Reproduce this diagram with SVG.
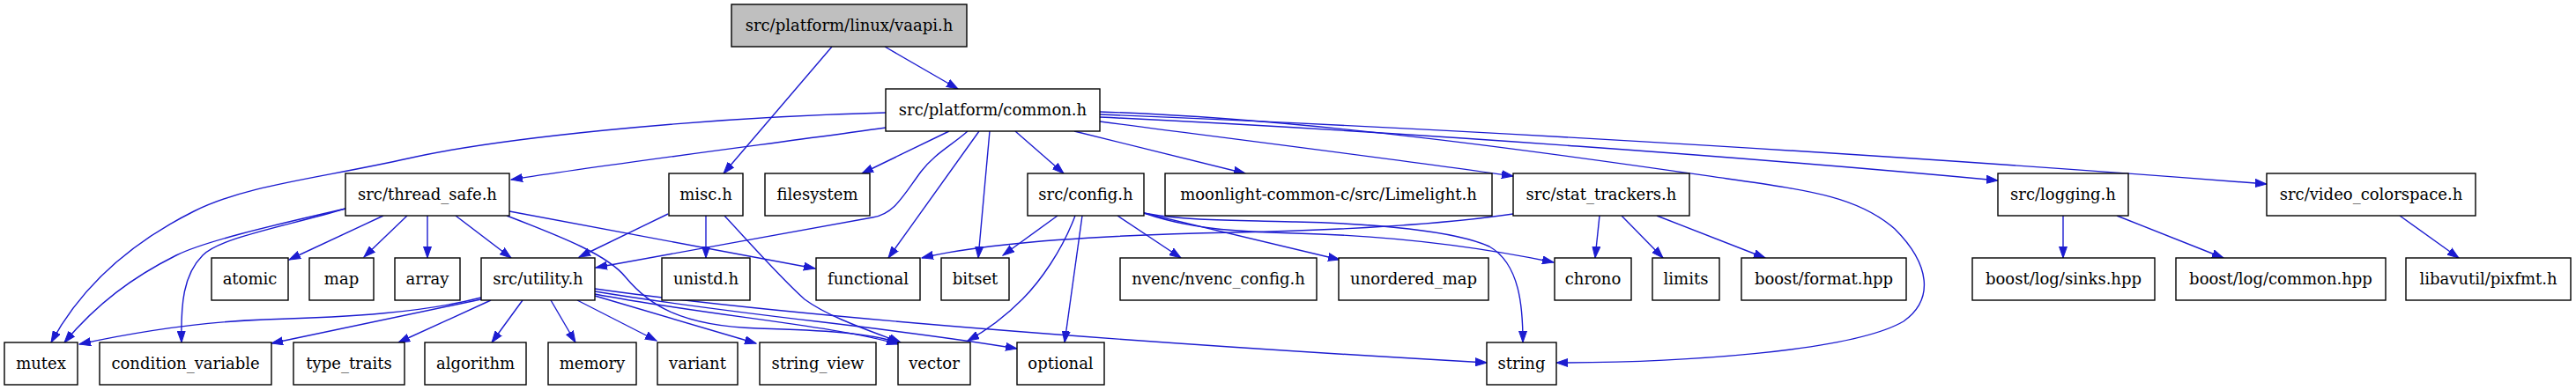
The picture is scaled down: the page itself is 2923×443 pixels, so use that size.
<svg xmlns="http://www.w3.org/2000/svg" width="2923" height="443" viewBox="0 0 2923 443">
<style>
.n rect{fill:#fff;stroke:#000;stroke-width:1.4}
.n.root rect{fill:#bfbfbf}
.n text{font-family:"DejaVu Serif",serif;font-size:18px;fill:#000;text-anchor:middle}
#edges path{fill:none;stroke:#1c1cd0;stroke-width:1.4;marker-end:url(#a)}
</style>
<defs>
<marker id="a" markerUnits="userSpaceOnUse" markerWidth="14" markerHeight="10" refX="13" refY="5" orient="auto"><path d="M0,0.5 L13,5 L0,9.5 z" fill="#1c1cd0" stroke="#1c1cd0" stroke-width="1"/></marker>
</defs>
<rect width="2923" height="443" fill="#fff"/>
<g id="edges">
<path d="M1004,53 L1087,101"/>
<path d="M944,53 L821,197"/>
<path d="M1005,145 C900,160 700,185 580,204"/>
<path d="M1005,128 C780,134 560,158 463,180 C360,203 280,210 220,240 C140,280 90,330 58,389"/>
<path d="M1077,149 L978,197"/>
<path d="M1098,149 C1080,165 1060,175 1045,195 C1025,222 1015,243 990,247 L676,304"/>
<path d="M1111,149 L1008,293"/>
<path d="M1123,149 L1110,293"/>
<path d="M1152,149 L1207,197"/>
<path d="M1219,149 L1413,197"/>
<path d="M1248,138 C1400,158 1600,183 1717,200"/>
<path d="M1248,133 C1600,150 2000,180 2267,205"/>
<path d="M1248,130 C1700,148 2200,180 2572,209"/>
<path d="M1248,127 C1500,135 1800,180 1960,203 C2060,217 2110,225 2150,260 C2190,300 2195,340 2160,365 C2100,400 1900,412 1766,412"/>
<path d="M392,237 C300,258 230,275 200,290 C150,315 110,345 73,389"/>
<path d="M392,237 C320,258 250,270 230,290 C208,312 205,345 206,389"/>
<path d="M435,245 L328,295"/>
<path d="M462,245 L413,292"/>
<path d="M485,245 L485,293"/>
<path d="M517,245 L580,293"/>
<path d="M578,240 L925,305"/>
<path d="M575,245 C640,270 690,290 710,315 C735,345 770,370 860,373 C930,375 990,378 1020,390"/>
<path d="M758,243 L657,292"/>
<path d="M801,245 L801,293"/>
<path d="M822,245 C850,275 885,315 913,340 C940,360 985,375 1022,389"/>
<path d="M546,338 C480,355 400,360 300,363 C220,366 150,378 90,391"/>
<path d="M546,340 L308,390"/>
<path d="M557,341 L452,389"/>
<path d="M593,341 L558,389"/>
<path d="M625,341 L653,389"/>
<path d="M655,341 L745,387"/>
<path d="M675,336 L858,390"/>
<path d="M675,334 C800,358 950,370 1019,391"/>
<path d="M675,331 C850,360 1000,370 1154,396"/>
<path d="M675,328 C900,360 1300,390 1687,412"/>
<path d="M1200,245 L1138,290"/>
<path d="M1220,245 C1205,285 1180,320 1160,340 C1140,360 1120,375 1098,387"/>
<path d="M1228,245 L1208,389"/>
<path d="M1268,245 L1340,293"/>
<path d="M1298,242 L1520,295"/>
<path d="M1298,242 C1350,260 1400,263 1470,265 C1600,268 1700,285 1763,298"/>
<path d="M1298,242 C1350,252 1420,250 1470,252 C1560,254 1650,262 1690,280 C1725,300 1728,350 1728,389"/>
<path d="M1717,243 C1620,257 1500,262 1400,264 C1200,268 1100,280 1046,293"/>
<path d="M1815,245 L1810,293"/>
<path d="M1840,245 L1887,293"/>
<path d="M1880,245 L2003,293"/>
<path d="M2341,245 L2341,293"/>
<path d="M2402,245 L2523,293"/>
<path d="M2723,245 L2790,293"/>
</g>
<g id="n_vaapi" class="n root"><rect x="830" y="5" width="267" height="48"/><text x="963.5" y="35">src/platform/linux/vaapi.h</text></g>
<g id="n_common" class="n"><rect x="1005" y="101" width="243" height="48"/><text x="1126.5" y="131">src/platform/common.h</text></g>
<g id="n_thread_safe" class="n"><rect x="392" y="197" width="186" height="48"/><text x="485" y="227">src/thread_safe.h</text></g>
<g id="n_misc" class="n"><rect x="759" y="197" width="84" height="48"/><text x="801" y="227">misc.h</text></g>
<g id="n_filesystem" class="n"><rect x="868" y="197" width="119" height="48"/><text x="927.5" y="227">filesystem</text></g>
<g id="n_config" class="n"><rect x="1166" y="197" width="132" height="48"/><text x="1232" y="227">src/config.h</text></g>
<g id="n_limelight" class="n"><rect x="1322" y="197" width="371" height="48"/><text x="1507.5" y="227">moonlight-common-c/src/Limelight.h</text></g>
<g id="n_stat_trackers" class="n"><rect x="1717" y="197" width="200" height="48"/><text x="1817" y="227">src/stat_trackers.h</text></g>
<g id="n_logging" class="n"><rect x="2267" y="197" width="148" height="48"/><text x="2341" y="227">src/logging.h</text></g>
<g id="n_video_colorspace" class="n"><rect x="2572" y="197" width="237" height="48"/><text x="2690.5" y="227">src/video_colorspace.h</text></g>
<g id="n_atomic" class="n"><rect x="240" y="293" width="87" height="48"/><text x="283.5" y="323">atomic</text></g>
<g id="n_map" class="n"><rect x="351" y="293" width="73" height="48"/><text x="387.5" y="323">map</text></g>
<g id="n_array" class="n"><rect x="448" y="293" width="74" height="48"/><text x="485" y="323">array</text></g>
<g id="n_utility" class="n"><rect x="546" y="293" width="129" height="48"/><text x="610.5" y="323">src/utility.h</text></g>
<g id="n_unistd" class="n"><rect x="751" y="293" width="100" height="48"/><text x="801" y="323">unistd.h</text></g>
<g id="n_functional" class="n"><rect x="926" y="293" width="118" height="48"/><text x="985" y="323">functional</text></g>
<g id="n_bitset" class="n"><rect x="1068" y="293" width="77" height="48"/><text x="1106.5" y="323">bitset</text></g>
<g id="n_nvenc" class="n"><rect x="1271" y="293" width="223" height="48"/><text x="1382.5" y="323">nvenc/nvenc_config.h</text></g>
<g id="n_unordered_map" class="n"><rect x="1519" y="293" width="170" height="48"/><text x="1604" y="323">unordered_map</text></g>
<g id="n_chrono" class="n"><rect x="1764" y="293" width="87" height="48"/><text x="1807.5" y="323">chrono</text></g>
<g id="n_limits" class="n"><rect x="1875" y="293" width="76" height="48"/><text x="1913" y="323">limits</text></g>
<g id="n_boost_format" class="n"><rect x="1976" y="293" width="187" height="48"/><text x="2069.5" y="323">boost/format.hpp</text></g>
<g id="n_sinks" class="n"><rect x="2238" y="293" width="207" height="48"/><text x="2341.5" y="323">boost/log/sinks.hpp</text></g>
<g id="n_log_common" class="n"><rect x="2469" y="293" width="238" height="48"/><text x="2588" y="323">boost/log/common.hpp</text></g>
<g id="n_pixfmt" class="n"><rect x="2730" y="293" width="187" height="48"/><text x="2823.5" y="323">libavutil/pixfmt.h</text></g>
<g id="n_mutex" class="n"><rect x="5" y="389" width="83" height="48"/><text x="46.5" y="419">mutex</text></g>
<g id="n_condition_variable" class="n"><rect x="113" y="389" width="195" height="48"/><text x="210.5" y="419">condition_variable</text></g>
<g id="n_type_traits" class="n"><rect x="333" y="389" width="126" height="48"/><text x="396" y="419">type_traits</text></g>
<g id="n_algorithm" class="n"><rect x="482" y="389" width="115" height="48"/><text x="539.5" y="419">algorithm</text></g>
<g id="n_memory" class="n"><rect x="622" y="389" width="100" height="48"/><text x="672" y="419">memory</text></g>
<g id="n_variant" class="n"><rect x="746" y="389" width="91" height="48"/><text x="791.5" y="419">variant</text></g>
<g id="n_string_view" class="n"><rect x="862" y="389" width="132" height="48"/><text x="928" y="419">string_view</text></g>
<g id="n_vector" class="n"><rect x="1019" y="389" width="82" height="48"/><text x="1060" y="419">vector</text></g>
<g id="n_optional" class="n"><rect x="1154" y="389" width="99" height="48"/><text x="1203.5" y="419">optional</text></g>
<g id="n_string" class="n"><rect x="1687" y="389" width="79" height="48"/><text x="1726.5" y="419">string</text></g>
</svg>
